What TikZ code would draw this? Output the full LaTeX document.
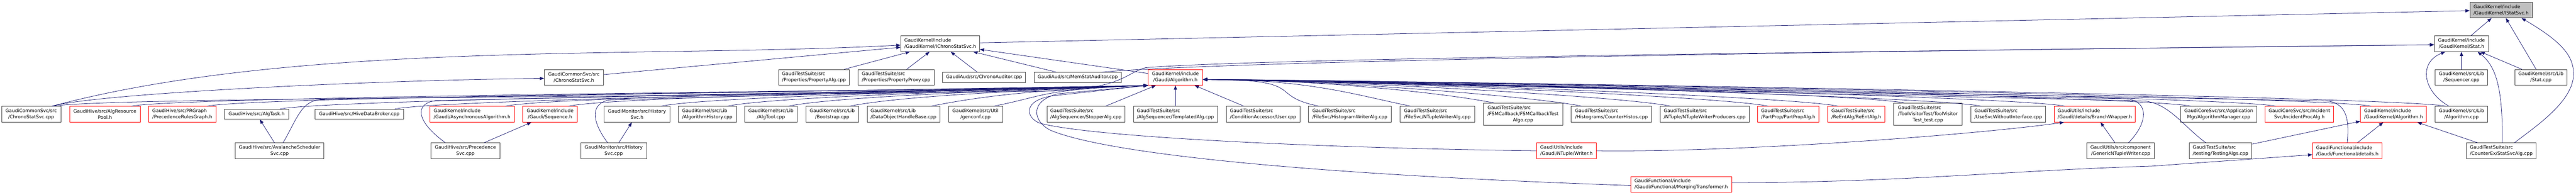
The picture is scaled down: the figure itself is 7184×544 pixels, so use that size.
\documentclass[tikz,border=0pt]{standalone}
\usepackage{fontspec}
\setmainfont{DejaVu Sans}
\usepackage{xcolor}
\usepackage{tikz}
\usetikzlibrary{arrows.meta}

\definecolor{midnight}{HTML}{191970}
\definecolor{grey25}{HTML}{404040}
\definecolor{grey75}{HTML}{BFBFBF}

\newlength{\padlen}
\newcommand{\padleft}[2]{\settowidth{\padlen}{#2}\makebox[\padlen][l]{#1}}

\begin{document}
\begin{tikzpicture}[x=1pt, y=1pt]
        \tikzset{
            file/.style={draw=grey25, line width=1.1pt, fill=white, align=center,
                minimum height=44pt, inner sep=0pt,
                font=\fontsize{13pt}{17.3pt}\selectfont},
            trunc/.style={file, draw=red},
            root/.style={file, fill=grey75},
            oneline/.style={minimum height=28pt},
            threeline/.style={minimum height=62pt},
            dep/.style={draw=midnight, line width=1.1pt, {Triangle[length=12pt, width=9pt]}-},
        }
        \fill[white] (0,0) rectangle (7184,544);
        \useasboundingbox (0,0) rectangle (7184,544);

        % root and first levels
        \node[root, align=left, minimum width=174pt] (istat) at (6975,516) {GaudiKernel/include\\/GaudiKernel/IStatSvc.h};
        \node[file, align=left, minimum width=220pt] (ichrono) at (2622,422) {GaudiKernel/include\\/GaudiKernel/IChronoStatSvc.h};
        \node[file, minimum width=151pt] (stath) at (6864.5,422) {GaudiKernel/include\\/GaudiKernel/Stat.h};

        \node[file, minimum width=165pt] (chronoh) at (1600.5,328) {GaudiCommonSvc/src\\/ChronoStatSvc.h};
        \node[file, align=left, minimum width=198pt] (propalg) at (2270,328) {GaudiTestSuite/src\\/Properties/PropertyAlg.cpp};
        \node[file, align=left, minimum width=212pt] (propproxy) at (2499,328) {GaudiTestSuite/src\\/Properties/PropertyProxy.cpp};
        \node[file, oneline, minimum width=231pt] (chronoaud) at (2744.5,328) {GaudiAud/src/ChronoAuditor.cpp};
        \node[file, oneline, minimum width=243pt] (memstat) at (3005.5,328) {GaudiAud/src/MemStatAuditor.cpp};
        \node[trunc, minimum width=152pt] (galgh) at (3278,328) {GaudiKernel/include\\/Gaudi/Algorithm.h};
        \node[file, minimum width=147pt] (sequencer) at (6864.5,328) {GaudiKernel/src/Lib\\/Sequencer.cpp};
        \node[file, minimum width=146pt] (statcpp) at (7086,328) {GaudiKernel/src/Lib\\/Stat.cpp};

        % third level
        \node[file, minimum width=165pt] (chronocpp) at (87,225) {GaudiCommonSvc/src\\/ChronoStatSvc.cpp};
        \node[trunc, minimum width=197pt] (algpool) at (292.5,225) {GaudiHive/src/AlgResource\\Pool.h};
        \node[trunc, align=left, minimum width=187pt] (prgraph) at (508.5,225) {GaudiHive/src/PRGraph\\/PrecedenceRulesGraph.h};
        \node[file, oneline, minimum width=179pt] (algtask) at (715.5,225) {GaudiHive/src/AlgTask.h};
        \node[file, oneline, minimum width=246pt] (hivebroker) at (1002,225) {GaudiHive/src/HiveDataBroker.cpp};
        \node[trunc, align=left, minimum width=235pt] (asyncalg) at (1316.5,225) {GaudiKernel/include\\/Gaudi/AsynchronousAlgorithm.h};
        \node[trunc, minimum width=152pt] (sequenceh) at (1534,225) {GaudiKernel/include\\/Gaudi/Sequence.h};
        \node[file, minimum width=183pt] (histsvch) at (1776.5,225) {GaudiMonitor/src/History\\Svc.h};
        \node[file, align=left, minimum width=161pt] (alghist) at (1972.5,225) {GaudiKernel/src/Lib\\/AlgorithmHistory.cpp};
        \node[file, minimum width=146pt] (algtool) at (2150,225) {GaudiKernel/src/Lib\\/AlgTool.cpp};
        \node[file, minimum width=146pt] (bootstrap) at (2321,225) {GaudiKernel/src/Lib\\/Bootstrap.cpp};
        \node[file, align=left, minimum width=203pt] (dohandle) at (2519.5,225) {GaudiKernel/src/Lib\\/DataObjectHandleBase.cpp};
        \node[file, minimum width=151pt] (genconf) at (2720.5,225) {GaudiKernel/src/Util\\/genconf.cpp};
        \node[file, align=left, minimum width=217pt] (stopper) at (3028.5,225) {GaudiTestSuite/src\\/AlgSequencer/StopperAlg.cpp};
        \node[file, align=left, minimum width=234pt] (templated) at (3278,225) {GaudiTestSuite/src\\/AlgSequencer/TemplatedAlg.cpp};
        \node[file, align=left, minimum width=205pt] (condusr) at (3522.5,225) {GaudiTestSuite/src\\/ConditionAccessor/User.cpp};
        \node[file, align=left, minimum width=231pt] (histwriter) at (3764.5,225) {GaudiTestSuite/src\\/FileSvc/HistogramWriterAlg.cpp};
        \node[file, align=left, minimum width=207pt] (ntwriter) at (4008.5,225) {GaudiTestSuite/src\\/FileSvc/NTupleWriterAlg.cpp};
        \node[file, threeline, minimum width=221pt] (fsmcb) at (4247.5,225) {\padleft{GaudiTestSuite/src}{/FSMCallback/FSMCallbackTest}\\/FSMCallback/FSMCallbackTest\\Algo.cpp};
        \node[file, align=left, minimum width=224pt] (counterhistos) at (4494,225) {GaudiTestSuite/src\\/Histograms/CounterHistos.cpp};
        \node[file, align=left, minimum width=248pt] (ntproducers) at (4754,225) {GaudiTestSuite/src\\/NTuple/NTupleWriterProducers.cpp};
        \node[trunc, align=left, minimum width=170pt] (partprop) at (4987,225) {GaudiTestSuite/src\\/PartProp/PartPropAlg.h};
        \node[trunc, align=left, minimum width=160pt] (reent) at (5177,225) {GaudiTestSuite/src\\/ReEntAlg/ReEntAlg.h};
        \node[file, threeline, minimum width=191pt] (toolvisitor) at (5376.5,225) {\padleft{GaudiTestSuite/src}{/ToolVisitorTest/ToolVisitor}\\/ToolVisitorTest/ToolVisitor\\Test\_test.cpp};
        \node[file, align=left, minimum width=209pt] (usesvc) at (5600.5,225) {GaudiTestSuite/src\\/UseSvcWithoutInterface.cpp};
        \node[trunc, align=left, minimum width=226pt] (branchwrap) at (5842,225) {GaudiUtils/include\\/Gaudi/details/BranchWrapper.h};
        \node[file, minimum width=213pt] (algmgr) at (6187.5,225) {GaudiCoreSvc/src/Application\\Mgr/AlgorithmManager.cpp};
        \node[trunc, minimum width=191pt] (incproc) at (6412.5,225) {GaudiCoreSvc/src/Incident\\Svc/IncidentProcAlg.h};
        \node[trunc, align=left, minimum width=184pt] (kalgh) at (6675,225) {GaudiKernel/include\\/GaudiKernel/Algorithm.h};
        \node[file, minimum width=147pt] (algcpp) at (6864.5,225) {GaudiKernel/src/Lib\\/Algorithm.cpp};

        % lower levels
        \node[file, minimum width=247pt] (avalanche) at (779.5,123) {GaudiHive/src/AvalancheScheduler\\Svc.cpp};
        \node[file, minimum width=192pt] (precsvc) at (1298,123) {GaudiHive/src/Precedence\\Svc.cpp};
        \node[file, minimum width=183pt] (histsvccpp) at (1711.5,123) {GaudiMonitor/src/History\\Svc.cpp};
        \node[trunc, align=left, minimum width=167pt] (writerh) at (4368.5,123) {GaudiUtils/include\\/Gaudi/NTuple/Writer.h};
        \node[file, minimum width=188pt] (genntw) at (5914,123) {GaudiUtils/src/component\\/GenericNTupleWriter.cpp};
        \node[file, align=left, minimum width=175pt] (testalgs) at (6192.5,123) {GaudiTestSuite/src\\/testing/TestingAlgs.cpp};
        \node[trunc, align=left, minimum width=194pt] (fdetails) at (6546,123) {GaudiFunctional/include\\/Gaudi/Functional/details.h};
        \node[file, align=left, minimum width=193pt] (statsvcalg) at (6975.5,123) {GaudiTestSuite/src\\/CounterEx/StatSvcAlg.cpp};
        \node[trunc, align=left, minimum width=281pt] (merging) at (4688.5,29) {GaudiFunctional/include\\/Gaudi/Functional/MergingTransformer.h};

        % IStatSvc.h
        \draw[dep] (istat) -- (ichrono);
        \draw[dep] (istat) -- (stath);
        \draw[dep] (istat) -- (statcpp);
        \draw[dep] ([xshift=57pt]istat.south) .. controls (7140,430) and (7178,390) .. (7177,336)
            .. controls (7176,260) and (7070,190) .. ([xshift=37pt]statsvcalg.north);

        % Stat.h
        \draw[dep] ([yshift=-3pt]stath.west) .. controls (5000,400) and (3400,372) .. ([xshift=-55pt]memstat.north east);
        \draw[dep] ([yshift=-3pt]stath.west) .. controls (5000,398) and (3500,380) .. (3195,355)
            .. controls (3140,340) and (3130,300) .. (2950,290)
            .. controls (1500,270) and (300,270) .. ([xshift=-25pt]chronocpp.north east);
        \draw[dep] (stath) -- (sequencer);
        \draw[dep] (stath) -- (statcpp);
        \draw[dep] ([xshift=-45pt]stath.south) .. controls (6745,370) and (6755,290) .. ([xshift=-35pt]algcpp.north);
        \draw[dep] ([xshift=45pt]stath.south) .. controls (6960,360) and (6980,300) .. ([xshift=3pt]statsvcalg.north);

        % IChronoStatSvc.h and ChronoStatSvc.h
        \draw[dep] ([yshift=-4pt]ichrono.west) .. controls (1801,381) and (832,431) .. ([xshift=-25pt]chronocpp.north east);
        \draw[dep] (ichrono) -- (chronoh);
        \draw[dep] (ichrono) -- (propalg);
        \draw[dep] (ichrono) -- (propproxy);
        \draw[dep] (ichrono) -- (chronoaud);
        \draw[dep] (ichrono) -- (memstat);
        \draw[dep] (ichrono) -- (galgh);
        \draw[dep] ([yshift=-3pt]chronoh.west) .. controls (1018,320) and (264,282) .. ([xshift=-25pt]chronocpp.north east);

        % Gaudi/Algorithm.h
        \foreach \s in {algpool,prgraph,algtask,hivebroker,asyncalg,sequenceh,histsvch,alghist,algtool,bootstrap,dohandle,genconf}
            \draw[dep] (galgh.south west) .. controls +(-300,-12) and +(150,30) .. ([xshift=-25pt]\s.north east);
        \draw[dep] (galgh.south west) -- (895,266) .. controls (840,262) and (830,215) .. ([xshift=10pt]avalanche.north);
        \draw[dep] (galgh.south west) -- (1215,263) .. controls (1155,255) and (1160,205) .. ([xshift=-56pt]precsvc.north);
        \draw[dep] (galgh.south west) -- (1700,265) .. controls (1645,255) and (1650,205) .. ([xshift=-17pt]histsvccpp.north);
        \draw[dep] (galgh.south west) -- (2940,277) .. controls (2850,265) and (2860,215) .. (2900,200)
            .. controls (3050,160) and (3700,130) .. (writerh.west);
        \draw[dep] (galgh.south west) -- (2950,282) .. controls (2870,262) and (2880,205) .. (2930,180)
            .. controls (3100,110) and (3700,55) .. ([yshift=-3pt]merging.west);
        \draw[dep] (galgh) -- (stopper);
        \draw[dep] (galgh) -- (templated);
        \draw[dep] (galgh) -- (condusr);
        \foreach \s in {histwriter,ntwriter,fsmcb,counterhistos,ntproducers,partprop,reent,toolvisitor,usesvc,branchwrap,algmgr,incproc,kalgh,algcpp}
            \draw[dep] ([yshift=-6pt]galgh.east) .. controls +(300,0) and +(-150,30) .. ([xshift=30pt]\s.north west);
        \draw[dep] ([yshift=-6pt]galgh.east) -- (5930,268) .. controls (5995,262) and (5990,200) .. ([xshift=22pt]genntw.north);
        \draw[dep] ([yshift=-6pt]galgh.east) -- (5980,262) .. controls (6050,255) and (6090,190) .. ([xshift=-41pt]testalgs.north);
        \draw[dep] ([yshift=-6pt]galgh.east) -- (6490,262) .. controls (6545,255) and (6552,210) .. (fdetails.north);

        % short ones
        \draw[dep] (algtask) -- (avalanche);
        \draw[dep] (sequenceh) -- (precsvc);
        \draw[dep] (histsvch) -- (histsvccpp);
        \draw[dep] (branchwrap) -- (genntw);
        \draw[dep] ([xshift=-86pt]branchwrap.south) .. controls +(-250,-35) and +(400,-5) .. (writerh.east);
        \draw[dep] ([yshift=-11pt]fdetails.west) -- (6000,80) .. controls (5600,68) and (5300,34) .. ([yshift=5pt]merging.east);
        \draw[dep] (kalgh) -- (fdetails);
        \draw[dep] (kalgh) -- (statsvcalg);
        \draw[dep] (kalgh) -- (testalgs);
\end{tikzpicture}
\end{document}
